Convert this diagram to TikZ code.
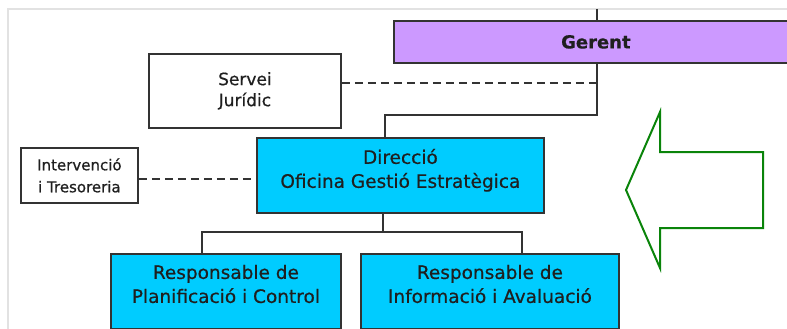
\documentclass[tikz,border=0pt]{standalone}
\usepackage{fontspec}
\setmainfont{DejaVu Sans}[FakeBold=0.6]
\newfontfamily\gerentfont{DejaVu Sans Bold}[FakeBold=0.4]
\definecolor{gerentfill}{HTML}{CC99FF}
\definecolor{cyanfill}{HTML}{00CCFF}
\definecolor{boxline}{HTML}{333333}
\definecolor{arrowgreen}{HTML}{0A840A}
\definecolor{framegray}{HTML}{E2E2E2}
\begin{document}
\begin{tikzpicture}[x=1pt,y=-1pt,
  box/.style={draw=boxline,line width=1.8pt,inner sep=0pt,align=center,text=black!88},
  whitebox/.style={box,fill=white},
  cyanbox/.style={box,fill=cyanfill,font=\fontsize{18.5}{24}\selectfont},
  conn/.style={draw=boxline,line width=1.8pt},
  dashconn/.style={conn,dash pattern=on 8pt off 5pt}]
\useasboundingbox (0,0) rectangle (787,329);
\clip (0,0) rectangle (787,329);
% frame
\draw[framegray,line width=1.2pt] (8,329) -- (8,9) -- (787,9);
% boxes
\node[box,fill=gerentfill,minimum width=404pt,minimum height=42pt,anchor=north west,
      font=\gerentfont\fontsize{18}{22}\selectfont] (gerent) at (393,20) {Gerent};
\node[whitebox,minimum width=192pt,minimum height=74pt,anchor=north west,
      font=\fontsize{17}{21}\selectfont] (servei) at (148,53) {Servei\\Jurídic};
\node[whitebox,minimum width=117pt,minimum height=55pt,anchor=north west,
      font=\fontsize{15}{22}\selectfont] (interv) at (20,147) {Intervenció\\i Tresoreria};
\node[cyanbox,minimum width=287pt,minimum height=75pt,anchor=north west,text depth=14pt] (direc) at (256,137)
      {Direcció\\Oficina Gestió Estratègica};
\node[cyanbox,minimum width=230pt,minimum height=75pt,anchor=north west,text depth=15pt] (planif) at (110,253)
      {Responsable de\\Planificació i Control};
\node[cyanbox,minimum width=258pt,minimum height=75pt,anchor=north west,text depth=15pt] (infor) at (360,253)
      {Responsable de\\Informació i Avaluació};
% connectors
\coordinate (topend) at (597,9);
\coordinate (gx) at (597,0);
\coordinate (jA) at (597,115);
\coordinate (jB) at (385,115);
\coordinate (dA) at (383,232);
\coordinate (lx) at (202,0);
\coordinate (rx) at (522,0);
\coordinate (sy) at (0,83);
\coordinate (iy) at (0,179);
\draw[conn] (topend) -- (topend |- gerent.north);
\draw[conn] (gerent.south -| gx) -- (jA) -- (jB) -- (jB |- direc.north);
\draw[dashconn] (servei.east |- sy) -- (gx |- sy);
\draw[dashconn] (interv.east |- iy) -- (direc.west |- iy);
\draw[conn] (direc.south -| dA) -- (dA);
\draw[conn] (planif.north -| lx) -- (lx |- dA) -- (rx |- dA) -- (infor.north -| rx);
% green arrow
\draw[arrowgreen,line width=2pt,line join=miter,fill=white]
  (626,190) -- (660,112) -- (660,152) -- (763,152) -- (763,228) -- (660,228) -- (660,268) -- cycle;
\end{tikzpicture}
\end{document}
